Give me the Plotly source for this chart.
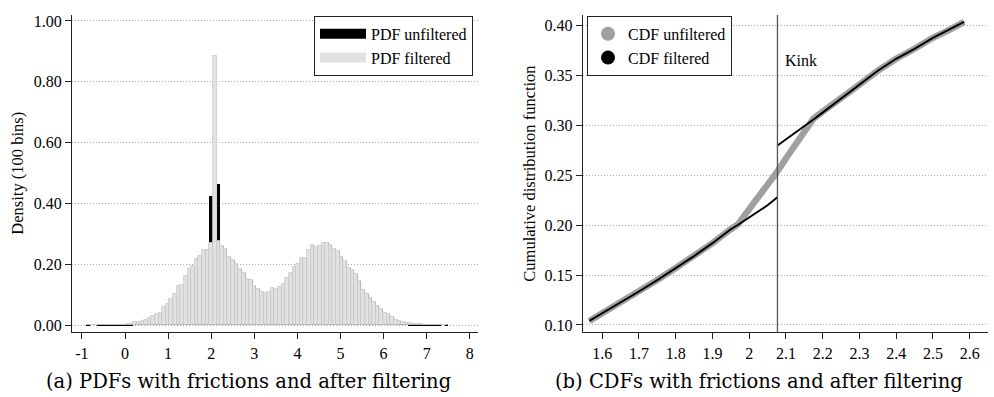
import plotly.graph_objects as go

# ---------------- Data: left panel (histogram, 100 bins on [-0.9, 7.5]) ----------------
bin_start = -0.9
bin_width = 0.084

pdf_filtered = [
    0, 0, 0, 0.001, 0.001, 0.001, 0.001, 0.001, 0.002, 0.002,
    0.002, 0.004, 0.005, 0.011, 0.011, 0.015, 0.016, 0.024, 0.030, 0.037,
    0.041, 0.059, 0.070, 0.086, 0.102, 0.130, 0.133, 0.163, 0.184, 0.196,
    0.217, 0.228, 0.246, 0.249, 0.272, 0.885, 0.276, 0.259, 0.252, 0.223,
    0.213, 0.200, 0.185, 0.171, 0.152, 0.148, 0.129, 0.118, 0.111, 0.105,
    0.109, 0.122, 0.118, 0.125, 0.135, 0.154, 0.173, 0.190, 0.203, 0.220,
    0.220, 0.247, 0.265, 0.258, 0.261, 0.272, 0.272, 0.263, 0.250, 0.243,
    0.225, 0.212, 0.189, 0.182, 0.167, 0.146, 0.116, 0.102, 0.089, 0.076,
    0.064, 0.054, 0.040, 0.037, 0.027, 0.018, 0.013, 0.011, 0.009, 0.0065,
    0.005, 0.004, 0.004, 0.002, 0.002, 0.001, 0.001, 0.001, 0, 0,
]

pdf_unfiltered = [
    0.003, 0, 0, 0.003, 0.003, 0.003, 0.003, 0.003, 0.003, 0.003,
    0.003, 0.004, 0.005, 0.011, 0.011, 0.015, 0.016, 0.024, 0.030, 0.037,
    0.041, 0.059, 0.070, 0.086, 0.102, 0.130, 0.133, 0.163, 0.184, 0.196,
    0.217, 0.228, 0.246, 0.249, 0.426, 0.280, 0.463, 0.259, 0.252, 0.223,
    0.213, 0.200, 0.185, 0.171, 0.152, 0.148, 0.129, 0.118, 0.111, 0.105,
    0.109, 0.122, 0.118, 0.125, 0.135, 0.154, 0.173, 0.190, 0.203, 0.220,
    0.220, 0.247, 0.265, 0.258, 0.261, 0.272, 0.272, 0.263, 0.250, 0.243,
    0.225, 0.212, 0.189, 0.182, 0.167, 0.146, 0.116, 0.102, 0.089, 0.076,
    0.064, 0.054, 0.040, 0.037, 0.027, 0.018, 0.013, 0.011, 0.009, 0.0065,
    0.005, 0.004, 0.004, 0.003, 0.003, 0.003, 0.003, 0.003, 0, 0.003,
]

bin_centers = [bin_start + bin_width * (i + 0.5) for i in range(len(pdf_filtered))]

left_xticks = [-1, 0, 1, 2, 3, 4, 5, 6, 7, 8]
left_xticktext = ["-1", "0", "1", "2", "3", "4", "5", "6", "7", "8"]
left_yticks = [0.0, 0.2, 0.4, 0.6, 0.8, 1.0]
left_yticktext = ["0.00", "0.20", "0.40", "0.60", "0.80", "1.00"]

# ---------------- Data: right panel (CDFs) ----------------
cdf_x = [1.565, 1.6, 1.65, 1.7, 1.75, 1.8, 1.85, 1.9, 1.95, 1.97, 2.0, 2.05, 2.077,
         2.1, 2.15, 2.175, 2.2, 2.25, 2.3, 2.35, 2.4, 2.45, 2.5, 2.55, 2.585]
cdf_unfiltered = [0.104, 0.1115, 0.123, 0.1335, 0.145, 0.157, 0.169, 0.182, 0.196, 0.201,
                  0.216, 0.240, 0.254, 0.267, 0.294, 0.307, 0.314, 0.327, 0.341, 0.355,
                  0.367, 0.377, 0.388, 0.397, 0.404]

cdf_filt_lo_x = [1.565, 1.6, 1.65, 1.7, 1.75, 1.8, 1.85, 1.9, 1.95, 1.97, 2.0, 2.05, 2.077]
cdf_filt_lo = [0.104, 0.1115, 0.123, 0.1335, 0.145, 0.157, 0.169, 0.182, 0.196, 0.2005,
               0.208, 0.220, 0.228]
cdf_filt_hi_x = [2.077, 2.1, 2.15, 2.175, 2.2, 2.25, 2.3, 2.35, 2.4, 2.45, 2.5, 2.55, 2.585]
cdf_filt_hi = [0.280, 0.286, 0.299, 0.306, 0.313, 0.327, 0.341, 0.355, 0.367, 0.377,
               0.388, 0.397, 0.404]

kink = 2.077

right_xticks = [1.6, 1.7, 1.8, 1.9, 2.0, 2.1, 2.2, 2.3, 2.4, 2.5, 2.6]
right_xticktext = ["1.6", "1.7", "1.8", "1.9", "2", "2.1", "2.2", "2.3", "2.4", "2.5", "2.6"]
right_yticks = [0.10, 0.15, 0.20, 0.25, 0.30, 0.35, 0.40]
right_yticktext = ["0.10", "0.15", "0.20", "0.25", "0.30", "0.35", "0.40"]

# ---------------- Figure ----------------
W, H = 994, 397
FONT = "Liberation Serif"
CAP_FONT = "DejaVu Serif"

fig = go.Figure()

# Left: histogram bars
fig.add_trace(go.Bar(x=bin_centers, y=pdf_unfiltered, width=bin_width,
                     marker=dict(color="black", line=dict(width=0)),
                     xaxis="x", yaxis="y", showlegend=False))
fig.add_trace(go.Bar(x=bin_centers, y=pdf_filtered, width=bin_width,
                     marker=dict(color="#e1e1e1", line=dict(color="#c9c9c9", width=0.8)),
                     xaxis="x", yaxis="y", showlegend=False))
# Left legend entries
fig.add_trace(go.Scatter(x=[None], y=[None], mode="lines", name="PDF unfiltered",
                         line=dict(color="black", width=13), xaxis="x", yaxis="y",
                         legend="legend"))
fig.add_trace(go.Scatter(x=[None], y=[None], mode="lines", name="PDF filtered",
                         line=dict(color="#e1e1e1", width=13), xaxis="x", yaxis="y",
                         legend="legend"))

# Right: CDFs
fig.add_trace(go.Scatter(x=cdf_x, y=cdf_unfiltered, mode="lines",
                         line=dict(color="#a0a0a0", width=6.5), xaxis="x2", yaxis="y2",
                         showlegend=False))
fig.add_trace(go.Scatter(x=cdf_filt_lo_x, y=cdf_filt_lo, mode="lines",
                         line=dict(color="black", width=2), xaxis="x2", yaxis="y2",
                         showlegend=False))
fig.add_trace(go.Scatter(x=cdf_filt_hi_x, y=cdf_filt_hi, mode="lines",
                         line=dict(color="black", width=2), xaxis="x2", yaxis="y2",
                         showlegend=False))
fig.add_trace(go.Scatter(x=[None], y=[None], mode="markers", name="CDF unfiltered",
                         marker=dict(color="#a0a0a0", size=14), xaxis="x2", yaxis="y2",
                         legend="legend2"))
fig.add_trace(go.Scatter(x=[None], y=[None], mode="markers", name="CDF filtered",
                         marker=dict(color="black", size=14), xaxis="x2", yaxis="y2",
                         legend="legend2"))

y_dom = [1 - 333 / H, 1 - 13 / H]

axis_common = dict(showline=True, linecolor="#222", linewidth=1, ticks="outside",
                   ticklen=6, tickcolor="#222", zeroline=False,
                   tickfont=dict(family=FONT, size=16, color="black"))

grid_common = dict(showgrid=True, gridcolor="#a8a8a8", griddash="1px,2px", gridwidth=1)

fig.update_layout(
    width=W, height=H,
    margin=dict(l=0, r=0, t=0, b=0),
    paper_bgcolor="white", plot_bgcolor="white",
    barmode="overlay", bargap=0,
    font=dict(family=FONT, size=16, color="black"),
    xaxis=dict(domain=[72 / W, 478 / W], range=[-1.23, 8.19],
               tickvals=left_xticks, ticktext=left_xticktext, showgrid=False,
               anchor="y", **axis_common),
    yaxis=dict(domain=y_dom, range=[-0.024, 1.02],
               tickvals=left_yticks, ticktext=left_yticktext,
               anchor="x", **grid_common, **axis_common),
    xaxis2=dict(domain=[582.7 / W, 988 / W], range=[1.547, 2.65],
                tickvals=right_xticks, ticktext=right_xticktext, showgrid=False,
                anchor="y2", **axis_common),
    yaxis2=dict(domain=y_dom, range=[0.0924, 0.411],
                tickvals=right_yticks, ticktext=right_yticktext,
                anchor="x2", **grid_common, **axis_common),
    legend=dict(x=473 / W, xanchor="right", y=1 - 14 / H, yanchor="top",
                bgcolor="white", bordercolor="#222", borderwidth=1,
                itemwidth=46, font=dict(family=FONT, size=16, color="black"),
                tracegroupgap=0),
    legend2=dict(x=587 / W, xanchor="left", y=1 - 14 / H, yanchor="top",
                 bgcolor="white", bordercolor="#222", borderwidth=1,
                 itemwidth=30, font=dict(family=FONT, size=16, color="black"),
                 tracegroupgap=0),
    shapes=[dict(type="line", xref="x2", yref="y2 domain", x0=kink, x1=kink, y0=0, y1=1,
                 line=dict(color="#555", width=1.3))],
    annotations=[
        dict(text="Kink", xref="x2", yref="y2", x=2.092, y=0.365, xanchor="left",
             yanchor="middle", showarrow=False, font=dict(family=FONT, size=16)),
        dict(text="Density (100 bins)", xref="paper", yref="paper", x=18 / W,
             y=1 - 173 / H, textangle=-90, showarrow=False, xanchor="center",
             yanchor="middle", font=dict(family=FONT, size=16.5)),
        dict(text="Cumulative distribution function", xref="paper", yref="paper",
             x=530 / W, y=1 - 173 / H, textangle=-90, showarrow=False,
             xanchor="center", yanchor="middle", font=dict(family=FONT, size=16.5)),
        dict(text="(a) PDFs with frictions and after filtering", xref="paper",
             yref="paper", x=248 / W, y=1 - 382 / H, showarrow=False,
             xanchor="center", yanchor="middle", font=dict(family=CAP_FONT, size=19.5)),
        dict(text="(b) CDFs with frictions and after filtering", xref="paper",
             yref="paper", x=759 / W, y=1 - 382 / H, showarrow=False,
             xanchor="center", yanchor="middle", font=dict(family=CAP_FONT, size=19.5)),
    ],
)

fig.write_html("out.html", config={"displayModeBar": False},
               post_script="document.body.style.margin='0';document.body.style.padding='0';")
